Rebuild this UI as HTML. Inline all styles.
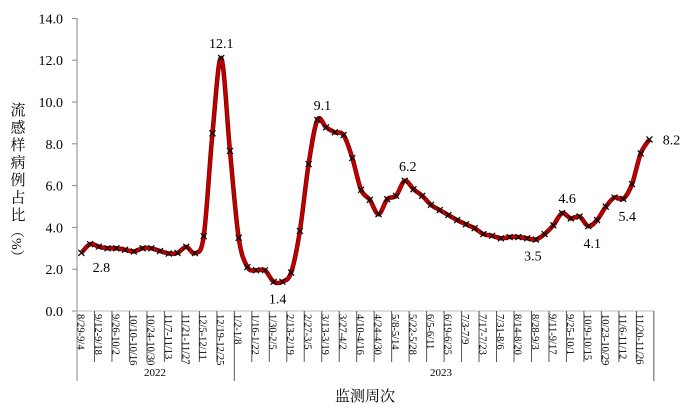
<!DOCTYPE html>
<html><head><meta charset="utf-8"><style>
body{margin:0;background:#fff}
svg text{font-family:"Liberation Serif","Noto Serif CJK SC",serif}
</style></head><body>
<svg id="s" width="700" height="411" xmlns="http://www.w3.org/2000/svg"></svg>
<script>
const v=[2.78,3.2,3.08,3.0,3.0,2.93,2.85,3.0,3.0,2.87,2.75,2.78,3.07,2.77,3.58,8.5,12.1,7.66,3.5,2.1,1.95,1.95,1.4,1.4,1.84,3.83,7.03,9.14,8.79,8.55,8.42,7.32,5.8,5.32,4.63,5.35,5.51,6.23,5.83,5.51,5.08,4.83,4.59,4.35,4.15,3.96,3.68,3.6,3.48,3.54,3.54,3.48,3.42,3.68,4.1,4.68,4.43,4.52,4.06,4.35,4.99,5.43,5.37,6.07,7.54,8.21];
const X0=77,W=8.74,Y0=311,K=20.9;
const X=i=>X0+W*(i+0.5),Y=t=>Y0-t*K;
let h='';
h+=`<line x1="${X0}" y1="18" x2="${X0}" y2="381" stroke="#888" stroke-width="1"/>`;
h+=`<line x1="${X0}" y1="${Y0}" x2="654" y2="${Y0}" stroke="#bbb" stroke-width="1"/>`;
for(let k=0;k<=7;k++){const y=Y(k*2);h+=`<line x1="72" y1="${y}" x2="${X0}" y2="${y}" stroke="#888"/><text x="63" y="${y+5}" font-size="14" text-anchor="end">${(k*2).toFixed(1)}</text>`;}
const labs=["8/29-9/4","9/12-9/18","9/26-10/2","10/10-10/16","10/24-10/30","11/7-11/13","11/21-11/27","12/5-12/11","12/19-12/25","1/2-1/8","1/16-1/22","1/30-2/5","2/13-2/19","2/27-3/5","3/13-3/19","3/27-4/2","4/10-4/16","4/24-4/30","5/8-5/14","5/22-5/28","6/5-6/11","6/19-6/25","7/3-7/9","7/17-7/23","7/31-8/6","8/14-8/20","8/28-9/3","9/11-9/17","9/25-10/1","10/9-10/15","10/23-10/29","11/6-11/12","11/20-11/26"];
for(let k=1;k<=33;k++){const x=X0+2*W*k;const long=(k==9||k==33);h+=`<line x1="${x}" y1="${Y0}" x2="${x}" y2="${long?381:362}" stroke="#555"/>`;}
labs.forEach((l,k)=>{const x=X(2*k)-4;h+=`<text transform="translate(${x},314) rotate(90)" font-size="10.5">${l}</text>`;});
h+=`<text x="155" y="376" font-size="11" text-anchor="middle">2022</text><text x="441" y="376" font-size="11" text-anchor="middle">2023</text>`;
h+=`<text x="365" y="401" font-size="15" text-anchor="middle">监测周次</text>`;
"流感样病例占比".split('').forEach((c,i)=>{h+=`<text x="18" y="${115+i*17.5}" font-size="15" text-anchor="middle">${c}</text>`;});
h+=`<text transform="translate(12,224) rotate(90)" font-size="14">（%）</text>`;
const p=v.map((t,i)=>[X(i),Y(t)]);
let d=`M${p[0][0]},${p[0][1]}`;
for(let i=0;i<p.length-1;i++){const a=p[Math.max(0,i-1)],b=p[i],c=p[i+1],e=p[Math.min(p.length-1,i+2)];
d+=` C${b[0]+(c[0]-a[0])/6},${b[1]+(c[1]-a[1])/6} ${c[0]-(e[0]-b[0])/6},${c[1]-(e[1]-b[1])/6} ${c[0]},${c[1]}`;}
h+=`<path d="${d}" fill="none" stroke="#7a0000" stroke-width="4.5"/><path d="${d}" fill="none" stroke="#c00000" stroke-width="3"/>`;
p.forEach(([x,y])=>{h+=`<path d="M${x-3},${y-3}L${x+3},${y+3}M${x-3},${y+3}L${x+3},${y-3}" stroke="#000" stroke-width="1.2"/>`;});
const L=[[16,"12.1",0,-10],[0,"2.8",20,19],[27,"9.1",5,-10],[22,"1.4",4,22],[37,"6.2",3,-10],[52,"3.5",-3,21],[55,"4.6",5,-10],[58,"4.1",4,22],[62,"5.4",4,22],[65,"8.2",22,5]];
L.forEach(([i,t,dx,dy])=>{h+=`<text x="${X(i)+dx}" y="${Y(v[i])+dy}" font-size="14" text-anchor="middle">${t}</text>`;});
document.getElementById('s').innerHTML=h;
</script>
</body></html>
